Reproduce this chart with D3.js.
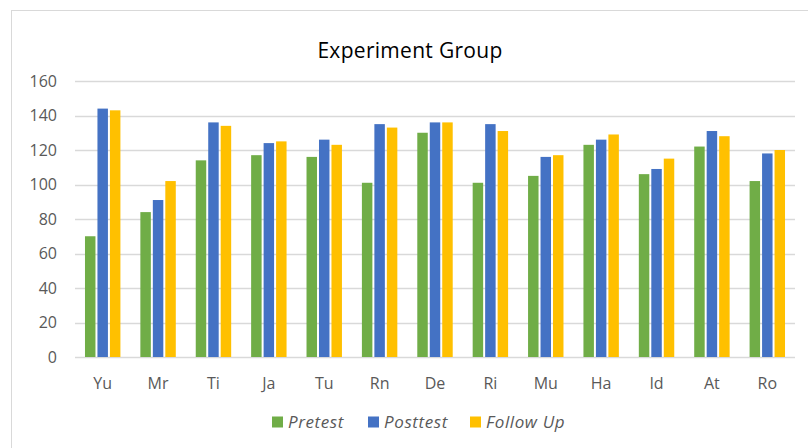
<!DOCTYPE html>
<html>
<head>
<meta charset="utf-8">
<script src="https://cdn.jsdelivr.net/npm/d3@7"></script>
<style>
  body { margin: 0; background: #fff; }
  text { font-family: "Open Sans", sans-serif; }
</style>
</head>
<body>
<svg id="chart" width="808" height="448"></svg>
<script>
const categories = ["Yu", "Mr", "Ti", "Ja", "Tu", "Rn", "De", "Ri", "Mu", "Ha", "Id", "At", "Ro"];
const seriesNames = ["Pretest", "Posttest", "Follow Up"];
const pretest = [70, 84, 114, 117, 116, 101, 130, 101, 105, 123, 106, 122, 102];
const posttest = [144, 91, 136, 124, 126, 135, 136, 135, 116, 126, 109, 131, 118];
const followUp = [143, 102, 134, 125, 123, 133, 136, 131, 117, 129, 115, 128, 120];
const yTicks = [0, 20, 40, 60, 80, 100, 120, 140, 160];
const colors = ["#70AD47", "#4472C4", "#FFC000"];

const seriesValues = [pretest, posttest, followUp];
const rows = categories.map((c, i) => ({
  cat: c,
  vals: seriesNames.map((s, k) => ({ key: s, value: seriesValues[k][i] })),
}));

const svg = d3.select("#chart");

// chart frame
svg.append("rect")
  .attr("x", 11.5).attr("y", 10.5)
  .attr("width", 820).attr("height", 460)
  .attr("fill", "#fff").attr("stroke", "#d9d9d9");

const plotLeft = 75, plotRight = 795, plotTop = 81, plotBottom = 357;

const x0 = d3.scaleBand().domain(categories).range([plotLeft, plotRight]);
const x1 = d3.scaleBand().domain(seriesNames)
  .range([0, x0.bandwidth()])
  .paddingInner(0.16).paddingOuter(0.8);
const y = d3.scaleLinear().domain([0, 160]).range([plotBottom, plotTop]);

// gridlines
svg.append("g")
  .selectAll("line")
  .data(yTicks)
  .join("line")
  .attr("x1", plotLeft).attr("x2", plotRight)
  .attr("y1", (d) => Math.round(y(d)) + 0.5)
  .attr("y2", (d) => Math.round(y(d)) + 0.5)
  .attr("stroke", "#d9d9d9").attr("stroke-width", 1.3);

// y labels
svg.append("g")
  .selectAll("text")
  .data(yTicks)
  .join("text")
  .attr("x", 57)
  .attr("y", (d) => y(d))
  .attr("dy", "0.35em")
  .attr("text-anchor", "end")
  .attr("fill", "#595959")
  .style("font-size", "16px")
  .text((d) => d);

// bars
svg.append("g")
  .selectAll("g")
  .data(rows)
  .join("g")
  .attr("transform", (d) => `translate(${x0(d.cat)},0)`)
  .selectAll("rect")
  .data((d) => d.vals)
  .join("rect")
  .attr("x", (d) => x1(d.key))
  .attr("width", x1.bandwidth())
  .attr("y", (d) => y(d.value))
  .attr("height", (d) => plotBottom - y(d.value))
  .attr("fill", (d, i) => colors[i]);

// x labels
svg.append("g")
  .selectAll("text")
  .data(categories)
  .join("text")
  .attr("x", (d) => x0(d) + x0.bandwidth() / 2)
  .attr("y", 389)
  .attr("text-anchor", "middle")
  .attr("fill", "#595959")
  .style("font-size", "16px")
  .text((d) => d);

// title
svg.append("text")
  .attr("x", 410).attr("y", 58)
  .attr("text-anchor", "middle")
  .attr("fill", "#000")
  .style("font-size", "21px")
  .style("letter-spacing", "0.3px")
  .text("Experiment Group");

// legend
const legendX = [272, 368, 470];
const legend = svg.append("g")
  .selectAll("g")
  .data(seriesNames)
  .join("g")
  .attr("transform", (d, i) => `translate(${legendX[i]},422)`);
legend.append("rect")
  .attr("x", 0).attr("y", -5.5)
  .attr("width", 11).attr("height", 11)
  .attr("fill", (d, i) => colors[i]);
legend.append("text")
  .attr("x", 16).attr("y", 0).attr("dy", "0.35em")
  .attr("fill", "#595959")
  .style("font-size", "17px")
  .style("letter-spacing", "0.6px")
  .style("font-style", "italic")
  .text((d) => d);
</script>
</body>
</html>
